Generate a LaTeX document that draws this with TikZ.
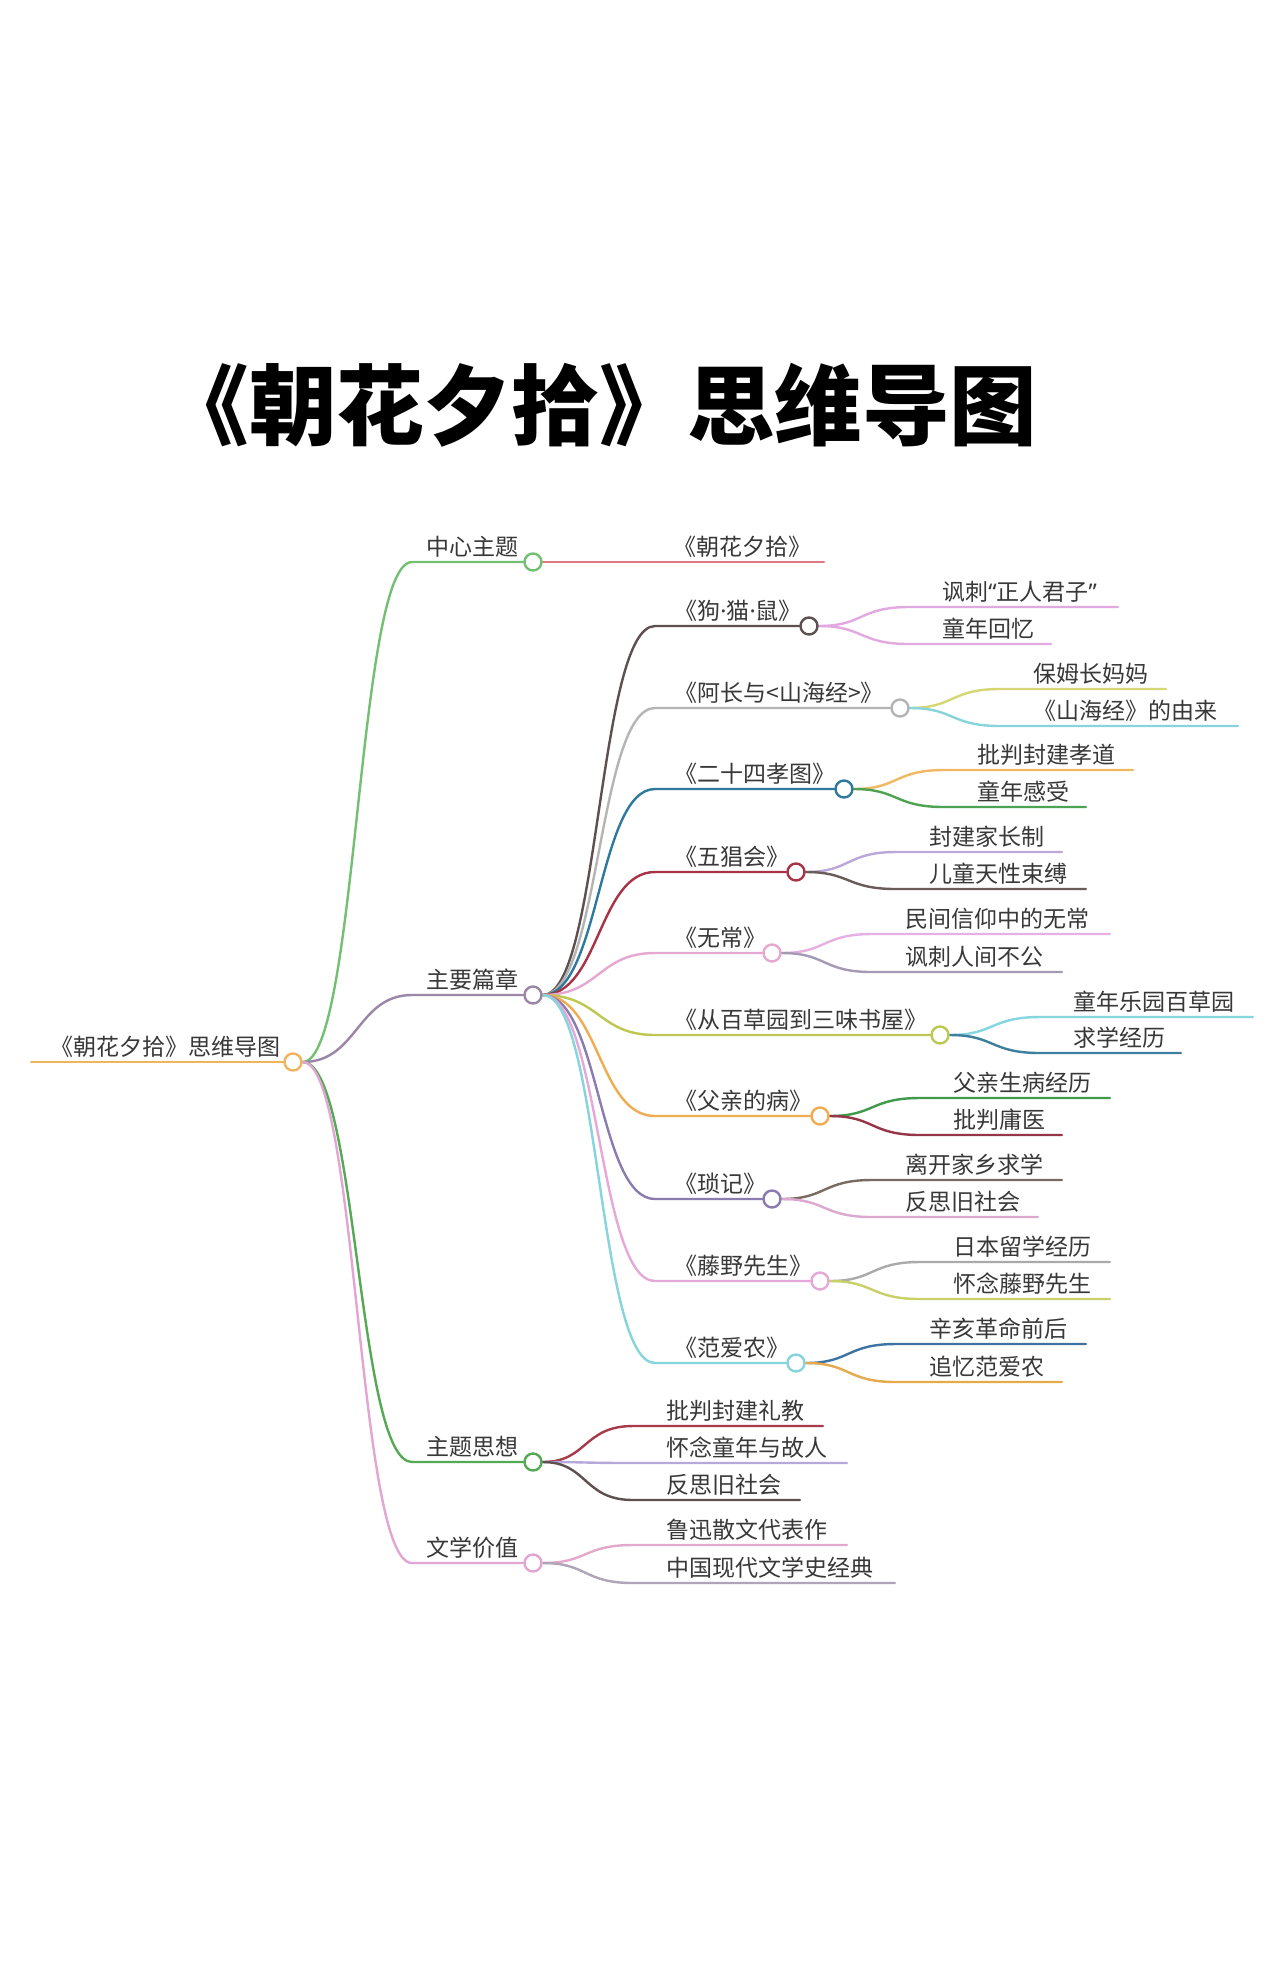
\documentclass[tikz,border=0pt]{standalone}
\usepackage{fontspec}
\newfontfamily\cjk{Noto Sans CJK SC}
\newfontfamily\latn{Noto Sans}
\usetikzlibrary{calc}
\pgfdeclarelayer{bg}
\pgfdeclarelayer{paper}
\pgfsetlayers{paper,bg,main}
\definecolor{txt}{HTML}{383838}
\definecolor{cRoot}{HTML}{F0B45C}
\definecolor{cA}{HTML}{74C072}
\definecolor{cAk}{HTML}{E07882}
\definecolor{cB}{HTML}{9A86A6}
\definecolor{cC}{HTML}{55A955}
\definecolor{cD}{HTML}{E2A6D2}
\definecolor{ch1}{HTML}{5E5050}
\definecolor{k1a}{HTML}{E2A8E0}
\definecolor{k1b}{HTML}{E2A8E0}
\definecolor{ch2}{HTML}{B4B4B4}
\definecolor{k2a}{HTML}{D6D672}
\definecolor{k2b}{HTML}{88D4DC}
\definecolor{ch3}{HTML}{2F7A9C}
\definecolor{k3a}{HTML}{F0B860}
\definecolor{k3b}{HTML}{4EA350}
\definecolor{ch4}{HTML}{A63446}
\definecolor{k4a}{HTML}{BCA8D8}
\definecolor{k4b}{HTML}{6A5A5A}
\definecolor{ch5}{HTML}{E6A8D0}
\definecolor{k5a}{HTML}{E6B0E4}
\definecolor{k5b}{HTML}{A49AB4}
\definecolor{ch6}{HTML}{BCC850}
\definecolor{k6a}{HTML}{86D6E0}
\definecolor{k6b}{HTML}{3E7E9E}
\definecolor{ch7}{HTML}{F0AC50}
\definecolor{k7a}{HTML}{3F9A4C}
\definecolor{k7b}{HTML}{963448}
\definecolor{ch8}{HTML}{8A7CB0}
\definecolor{k8a}{HTML}{7A6A64}
\definecolor{k8b}{HTML}{DCA8D0}
\definecolor{ch9}{HTML}{E6A8D8}
\definecolor{k9a}{HTML}{AAAAAA}
\definecolor{k9b}{HTML}{C8D068}
\definecolor{ch10}{HTML}{86D4DC}
\definecolor{k10a}{HTML}{3E74A4}
\definecolor{k10b}{HTML}{E4AA4C}
\definecolor{kCa}{HTML}{A83A4A}
\definecolor{kCb}{HTML}{B4A8DC}
\definecolor{kCc}{HTML}{5E5050}
\definecolor{kDa}{HTML}{E4A8CC}
\definecolor{kDb}{HTML}{B0A4B8}
\tikzset{
  mmline/.style={line width=1.2pt, line cap=round},
  mmdot/.style={circle, draw, fill=white, line width=1.2pt, minimum size=8.5pt, inner sep=0pt},
  mmtext/.style={font=\cjk\fontsize{11.5}{13}\selectfont, text=txt, inner sep=0pt},
}
\newcommand\ndot{{\latn ·}}
% level-1 branch: name, colour, y, text
\newcommand\mmlone[4]{%
  \node[mmdot,draw=#2] (#1) at (533,#3) {};
  \coordinate (#1s) at (412,#3);
  \node[mmtext,anchor=base east] (#1t) at (519,{#3-7}) {#4};
  \begin{pgfonlayer}{bg}
    \draw[mmline,#2] (R.east) .. controls +(55,0) and +(-55,0) .. (#1s) -- (#1.west);
  \end{pgfonlayer}}
% chapter: name, colour, circle x, circle y, text
\newcommand\mmchap[5]{%
  \node[mmdot,draw=#2] (#1) at (#3,#4) {};
  \coordinate (#1s) at (655,#4);
  \node[mmtext,anchor=base west] (#1t) at (674,{#4-7}) {#5};
  \begin{pgfonlayer}{bg}
    \draw[mmline,#2] (B.east) .. controls +(57,0) and +(-57,0) .. (#1s) -- (#1.west);
  \end{pgfonlayer}}
% leaf: name, parent, colour, parent x, line y, end x, text
\newcommand\mmkid[7]{%
  \coordinate (#1s) at ({#4+100},#5);
  \coordinate (#1e) at (#6,#5);
  \node[mmtext,anchor=base west] (#1) at ({#4+133},{#5-7}) {#7};
  \begin{pgfonlayer}{bg}
    \draw[mmline,#3] (#2.east) .. controls +(45,0) and +(-50,0) .. (#1s) -- (#1e);
  \end{pgfonlayer}}
\begin{document}
\begin{tikzpicture}[x=0.5pt,y=-0.5pt]
\useasboundingbox (0,0) rectangle (1280,1972);
\begin{pgfonlayer}{paper}
  \fill[white] (0,0) rectangle (1280,1972);
\end{pgfonlayer}

\node[font=\cjk\bfseries\fontsize{43.8}{50}\selectfont, inner sep=0pt, anchor=west] (title) at (161,405) {《朝花夕拾》思维导图};

% root
\node[mmdot,draw=cRoot] (R) at (293,1062) {};
\coordinate (R0) at (31,1062);
\node[mmtext,anchor=base east] (Rt) at (281,1055) {《朝花夕拾》思维导图};
\begin{pgfonlayer}{bg}
  \draw[mmline,cRoot] (R0) -- (R.west);
\end{pgfonlayer}

% level 1
\mmlone{A}{cA}{562}{中心主题}
\mmlone{B}{cB}{995}{主要篇章}
\mmlone{C}{cC}{1462}{主题思想}
\mmlone{D}{cD}{1563}{文学价值}

% central theme child
\coordinate (Ake) at (824,562);
\node[mmtext,anchor=base west] (Ak) at (673,555) {《朝花夕拾》};
\begin{pgfonlayer}{bg}
  \draw[mmline,cAk] (A.east) -- (Ake);
\end{pgfonlayer}

% chapters
\mmchap{P1}{ch1}{809}{626}{《狗\ndot 猫\ndot 鼠》}
\mmchap{P2}{ch2}{900}{708}{《阿长与<山海经>》}
\mmchap{P3}{ch3}{844}{789}{《二十四孝图》}
\mmchap{P4}{ch4}{796}{872}{《五猖会》}
\mmchap{P5}{ch5}{772}{953}{《无常》}
\mmchap{P6}{ch6}{940}{1035}{《从百草园到三味书屋》}
\mmchap{P7}{ch7}{820}{1116}{《父亲的病》}
\mmchap{P8}{ch8}{772}{1199}{《琐记》}
\mmchap{P9}{ch9}{820}{1281}{《藤野先生》}
\mmchap{P10}{ch10}{796}{1363}{《范爱农》}

% chapter leaves
\mmkid{P1a}{P1}{k1a}{809}{607}{1118}{讽刺{\latn “}正人君子{\latn ”}}
\mmkid{P1b}{P1}{k1b}{809}{644}{1051}{童年回忆}
\mmkid{P2a}{P2}{k2a}{900}{689}{1166}{保姆长妈妈}
\mmkid{P2b}{P2}{k2b}{900}{726}{1238}{《山海经》的由来}
\mmkid{P3a}{P3}{k3a}{844}{770}{1133}{批判封建孝道}
\mmkid{P3b}{P3}{k3b}{844}{807}{1086}{童年感受}
\mmkid{P4a}{P4}{k4a}{796}{852}{1062}{封建家长制}
\mmkid{P4b}{P4}{k4b}{796}{889}{1086}{儿童天性束缚}
\mmkid{P5a}{P5}{k5a}{772}{934}{1110}{民间信仰中的无常}
\mmkid{P5b}{P5}{k5b}{772}{972}{1062}{讽刺人间不公}
\mmkid{P6a}{P6}{k6a}{940}{1017}{1253}{童年乐园百草园}
\mmkid{P6b}{P6}{k6b}{940}{1053}{1181}{求学经历}
\mmkid{P7a}{P7}{k7a}{820}{1098}{1110}{父亲生病经历}
\mmkid{P7b}{P7}{k7b}{820}{1135}{1062}{批判庸医}
\mmkid{P8a}{P8}{k8a}{772}{1180}{1062}{离开家乡求学}
\mmkid{P8b}{P8}{k8b}{772}{1217}{1038}{反思旧社会}
\mmkid{P9a}{P9}{k9a}{820}{1262}{1110}{日本留学经历}
\mmkid{P9b}{P9}{k9b}{820}{1299}{1110}{怀念藤野先生}
\mmkid{P10a}{P10}{k10a}{796}{1344}{1086}{辛亥革命前后}
\mmkid{P10b}{P10}{k10b}{796}{1382}{1062}{追忆范爱农}

% theme and value leaves
\mmkid{Ca}{C}{kCa}{533}{1426}{823}{批判封建礼教}
\mmkid{Cb}{C}{kCb}{533}{1463}{847}{怀念童年与故人}
\mmkid{Cc}{C}{kCc}{533}{1500}{800}{反思旧社会}
\mmkid{Da}{D}{kDa}{533}{1545}{847}{鲁迅散文代表作}
\mmkid{Db}{D}{kDb}{533}{1583}{895}{中国现代文学史经典}
\end{tikzpicture}
\end{document}
